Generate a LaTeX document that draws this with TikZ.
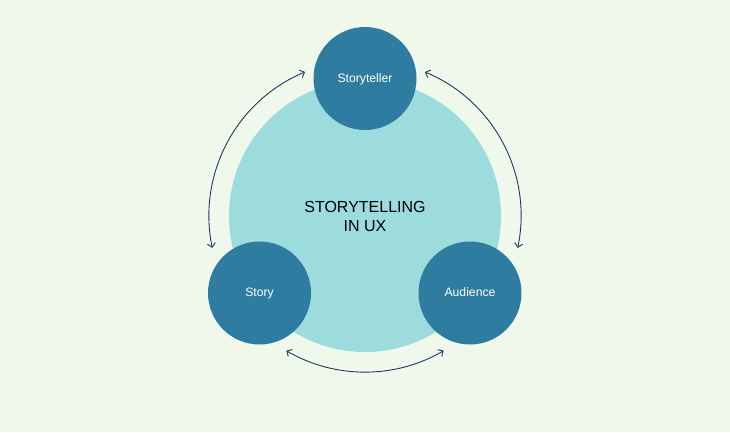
\documentclass[tikz,border=0pt]{standalone}
\usepackage{fontspec}
\setmainfont{Liberation Sans}
\usetikzlibrary{
    arrows.meta,
    calc,
    positioning
}
\definecolor{paper}{HTML}{F0F8EC}
\definecolor{hubfill}{HTML}{9CDCDC}
\definecolor{rolefill}{HTML}{2E7DA1}
\definecolor{linkline}{HTML}{1E3A5C}
\tikzset{
    every picture/.style = {
        > = {Straight Barb[length = 4pt, width = 8pt]},
        x = 1pt,
        y = 1pt
    },
    hub/.style = {
        circle,
        fill = hubfill,
        minimum size = 272pt,
        inner sep = 0pt,
        align = center,
        font = {\fontsize{16}{19}\selectfont}
    },
    role/.style = {
        circle,
        fill = rolefill,
        text = white,
        minimum size = 103pt,
        inner sep = 0pt,
        text height = 0.72em,
        text depth = 0pt,
        font = {\fontsize{12.2}{14}\selectfont}
    },
    link/.style = {
        <->,
        draw = linkline,
        line width = 0.9pt
    }
}

\begin{document}
\begin{tikzpicture}[on grid]
    \fill[paper] (0,0) rectangle (730,-432);
    \useasboundingbox (0,0) rectangle (730,-432);

    \node[hub] (hub) at (365,-216) {STORYTELLING\\IN UX};
    \node[role] (teller) [above = 137.5pt of hub] {Storyteller};
    \node[role] (story) [below left = 77pt and 105.5pt of hub] {Story};
    \node[role] (audience) [below right = 77pt and 105pt of hub] {Audience};

    % arcs round the hub
    \coordinate (tl) at ($(hub) + (112.6:156)$);
    \coordinate (tr) at ($(hub) + (67.4:156)$);
    \coordinate (bl) at ($(hub) + (239.7:156)$);

    \draw[link] (tl) arc[start angle = 112.6, end angle = 191.8, radius = 156];
    \draw[link] (tr) arc[start angle = 67.4, end angle = -11.8, radius = 156];
    \draw[link] (bl) arc[start angle = 239.7, end angle = 300.3, radius = 156];
\end{tikzpicture}
\end{document}
